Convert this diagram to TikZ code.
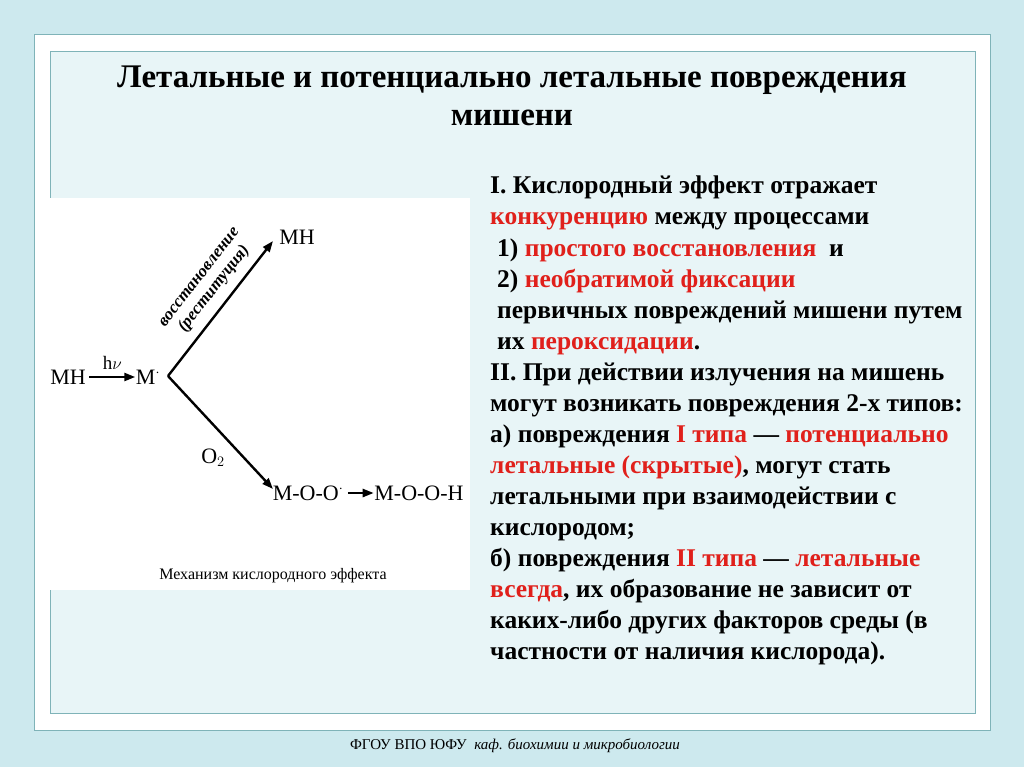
\documentclass[tikz,border=0pt]{standalone}
\usepackage{fontspec}
\setmainfont{Liberation Serif}
\usetikzlibrary{arrows.meta}
\definecolor{bg}{HTML}{CDE9EE}
\definecolor{inner}{HTML}{E8F5F7}
\definecolor{frame}{HTML}{7FB3B8}
\definecolor{rd}{HTML}{E0201B}
\begin{document}
\begin{tikzpicture}[x=1pt,y=-1pt,
  body/.style={anchor=base west,font=\bfseries\fontsize{25.5}{30}\selectfont,inner sep=0},
  chem/.style={font=\fontsize{22}{26}\selectfont,inner sep=0.5pt},
  arr/.style={-{Triangle[length=11pt,width=8pt]},line width=2.4pt}]
\fill[bg] (0,0) rectangle (1024,767);
\useasboundingbox (0,0) rectangle (1024,767);
\draw[frame,fill=white,line width=1pt] (34,35) rectangle (990,730);
\draw[frame,fill=inner,line width=1pt] (50,52) rectangle (975,713);
\node[font=\bfseries\fontsize{33}{38}\selectfont,align=center] (title) at (512,96) {Летальные и потенциально летальные повреждения\\мишени};
\fill[white] (40,198) rectangle (470,590);
% diagram
\node[chem] (mh0) at (68,377) {MH};
\node[chem] (mr) at (148,377) {M$^{\cdot}$};
\coordinate (v) at (168,376);
\node[chem] (mh1) at (297,237) {MH};
\node[chem] (moo) at (308,493) {M-O-O$^{\cdot}$};
\node[chem] (mooh) at (419,493) {M-O-O-H};
\draw[arr] (mh0.east) ++(3,0) -- node[above=3pt,font=\fontsize{19}{20}\selectfont]{h$\nu$} (mr.west);
\draw[arr] (v) -- (273,241);
\draw[arr] (v) -- (273,489);
\draw[arr] (moo.east) ++(4,0) -- (mooh.west);
\node[font=\fontsize{22}{24}\selectfont] (o2) at (213,458) {O$_2$};
\node[font=\itshape\bfseries\fontsize{17}{19}\selectfont,align=center,rotate=52] (lab) at (208,284) {восстановление\\(реституция)};
\node[font=\fontsize{16}{18}\selectfont] (cap) at (273,576) {Механизм кислородного эффекта};
% text
\node[body] (l1) at (490,194) {I. Кислородный эффект отражает};
\node[body] (l2) at (490,225) {\textcolor{rd}{конкуренцию} между процессами};
\node[body] (l3) at (497,256) {1) \textcolor{rd}{простого восстановления}\enspace и};
\node[body] (l4) at (497,287) {2) \textcolor{rd}{необратимой фиксации}};
\node[body] (l5) at (497,318) {первичных повреждений мишени путем};
\node[body] (l6) at (497,349) {их \textcolor{rd}{пероксидации}.};
\node[body] (l7) at (490,380) {II. При действии излучения на мишень};
\node[body] (l8) at (490,411) {могут возникать повреждения 2-х типов:};
\node[body] (l9) at (490,442) {а) повреждения \textcolor{rd}{I типа} — \textcolor{rd}{потенциально}};
\node[body] (l10) at (490,473) {\textcolor{rd}{летальные (скрытые)}, могут стать};
\node[body] (l11) at (490,504) {летальными при взаимодействии с};
\node[body] (l12) at (490,535) {кислородом;};
\node[body] (l13) at (490,566) {б) повреждения \textcolor{rd}{II типа} — \textcolor{rd}{летальные}};
\node[body] (l14) at (490,597) {\textcolor{rd}{всегда}, их образование не зависит от};
\node[body] (l15) at (490,628) {каких-либо других факторов среды (в};
\node[body] (l16) at (490,659) {частности от наличия кислорода).};
\node[font=\fontsize{15}{17}\selectfont] (foot) at (515,746) {ФГОУ ВПО ЮФУ\enspace\textit{каф. биохимии и микробиологии}};
\end{tikzpicture}
\end{document}
